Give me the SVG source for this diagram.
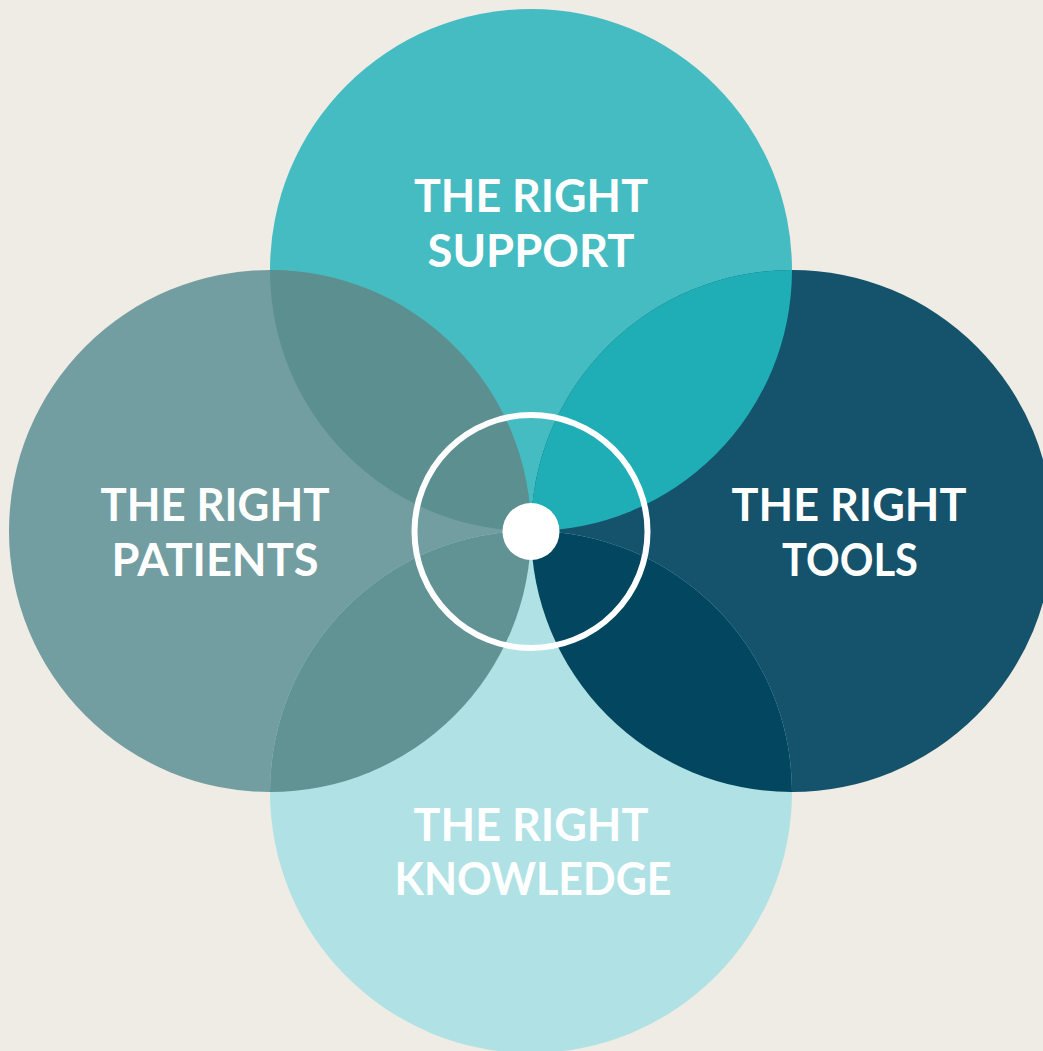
<svg xmlns="http://www.w3.org/2000/svg" width="1043" height="1051" viewBox="0 0 1043 1051">
<style>
.lbl{font-family:"Lato","Liberation Sans",sans-serif;font-weight:700;font-size:46px;fill:#ffffff;text-anchor:middle}
</style>
<rect width="1043" height="1051" fill="#EFEBE5"/>
<g id="node-support"><circle cx="531" cy="270" r="261" fill="#45BCC2"/></g>
<g id="node-patients"><circle cx="270" cy="531" r="261" fill="#729DA1"/></g>
<g id="node-tools"><circle cx="792" cy="531" r="261" fill="#14536B"/></g>
<g id="node-knowledge"><circle cx="531" cy="792" r="261" fill="#B0E2E5"/></g>
<g id="overlaps">
<path d="M270,270 A261,261 0 0 1 531,531 A261,261 0 0 1 270,270 Z" fill="#5C8F8F"/>
<path d="M792,270 A261,261 0 0 0 531,531 A261,261 0 0 0 792,270 Z" fill="#1FAEB5"/>
<path d="M531,531 A261,261 0 0 0 792,792 A261,261 0 0 0 531,531 Z" fill="#02465F"/>
<path d="M531,531 A261,261 0 0 1 270,792 A261,261 0 0 1 531,531 Z" fill="#619395"/>
</g>
<g id="hub">
<circle cx="531" cy="531.5" r="116.5" fill="none" stroke="#ffffff" stroke-width="6"/>
<circle cx="531" cy="531.5" r="28.5" fill="#ffffff"/>
</g>
<g id="labels">
<text class="lbl" x="531" y="212" textLength="234" lengthAdjust="spacingAndGlyphs">THE RIGHT</text>
<text class="lbl" x="531" y="267" textLength="207" lengthAdjust="spacingAndGlyphs">SUPPORT</text>
<text class="lbl" x="215" y="521" textLength="229" lengthAdjust="spacingAndGlyphs">THE RIGHT</text>
<text class="lbl" x="215" y="576" textLength="207" lengthAdjust="spacingAndGlyphs">PATIENTS</text>
<text class="lbl" x="849" y="521" textLength="235" lengthAdjust="spacingAndGlyphs">THE RIGHT</text>
<text class="lbl" x="850" y="576" textLength="136" lengthAdjust="spacingAndGlyphs">TOOLS</text>
<text class="lbl" x="531" y="841" textLength="235" lengthAdjust="spacingAndGlyphs">THE RIGHT</text>
<text class="lbl" x="533" y="895" textLength="277" lengthAdjust="spacingAndGlyphs">KNOWLEDGE</text>
</g>
</svg>
